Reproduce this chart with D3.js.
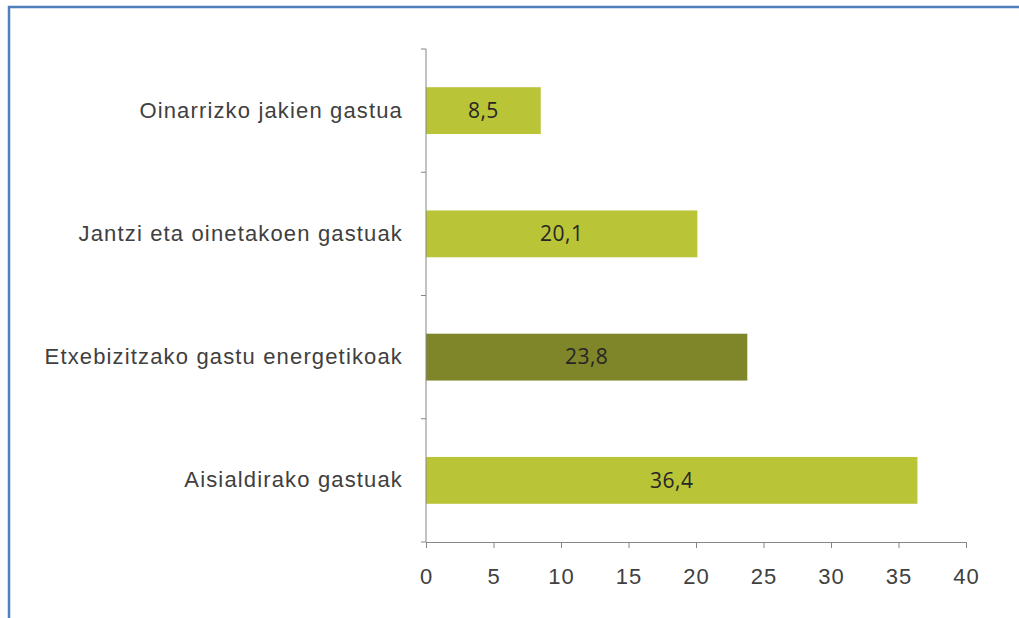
<!DOCTYPE html>
<meta charset="utf-8">
<style>
body { margin: 0; background: #fff; }
svg { display: block; font-family: "Open Sans", sans-serif; }
.axis path, .axis line { stroke: #868686; }
.axis text { fill: #404040; }
</style>
<body>
<script src="https://cdn.jsdelivr.net/npm/d3@7"></script>
<script>

var categories = ["Oinarrizko jakien gastua", "Jantzi eta oinetakoen gastuak", "Etxebizitzako gastu energetikoak", "Aisialdirako gastuak"];
var values = [8.5, 20.1, 23.8, 36.4];
var labels = ["8,5", "20,1", "23,8", "36,4"];
var highlight = [false, false, true, false];
var xTicks = [0, 5, 10, 15, 20, 25, 30, 35, 40];

var W = 1019, H = 618;
var margin = {top: 49, left: 426, right: 53, bottom: 76};
var width = W - margin.left - margin.right,
    height = H - margin.top - margin.bottom;

var svg = d3.select("body").append("svg")
    .attr("width", W)
    .attr("height", H);

// blue frame (cut at right and bottom)
svg.append("path")
    .attr("d", "M9,618 V7 H1019")
    .attr("fill", "none")
    .attr("stroke", "#4f81bd")
    .attr("stroke-width", 2.5);

var g = svg.append("g")
    .attr("transform", "translate(" + margin.left + "," + margin.top + ")");

var x = d3.scaleLinear().domain([0, 40]).range([0, width]);
var y = d3.scaleBand().domain(categories).range([0, height])
    .paddingInner(0.62).paddingOuter(0.31);

// bars
g.selectAll(".bar")
    .data(values)
  .enter().append("rect")
    .attr("class", "bar")
    .attr("x", 0)
    .attr("y", function(d, i) { return y(categories[i]); })
    .attr("width", function(d) { return x(d); })
    .attr("height", y.bandwidth())
    .attr("fill", function(d, i) { return highlight[i] ? "#7f8529" : "#b9c437"; });

g.selectAll(".val")
    .data(values)
  .enter().append("text")
    .attr("class", "val")
    .attr("x", function(d) { return x(d) / 2; })
    .attr("y", function(d, i) { return y(categories[i]) + y.bandwidth() / 2; })
    .attr("dy", "0.35em")
    .attr("text-anchor", "middle")
    .style("font-size", "21px")
    .style("letter-spacing", "0.5px")
    .style("fill", "#262626")
    .text(function(d, i) { return labels[i]; });

// x axis
g.append("g")
    .attr("class", "axis")
    .attr("transform", "translate(0," + height + ")")
    .call(d3.axisBottom(x).tickValues(xTicks).tickSize(6).tickPadding(20).tickSizeOuter(0))
    .selectAll("text")
    .style("font-size", "22px")
    .style("letter-spacing", "1px");

// y axis: labels only, ticks at band edges
var yAxis = g.append("g")
    .attr("class", "axis")
    .call(d3.axisLeft(y).tickSize(0).tickPadding(23));
yAxis.select(".domain").remove();
yAxis.selectAll("text")
    .style("font-size", "22px")
    .style("letter-spacing", "1.15px");

g.append("line")
    .attr("x1", 0).attr("x2", 0)
    .attr("y1", 0).attr("y2", height)
    .attr("stroke", "#868686");

var edges = categories.map(function(c) { return y(c) - y.step() * y.paddingInner() / 2; });
edges.push(height);
g.selectAll(".ytick")
    .data(edges)
  .enter().append("line")
    .attr("x1", -5).attr("x2", 0)
    .attr("y1", function(d) { return d; })
    .attr("y2", function(d) { return d; })
    .attr("stroke", "#868686");

</script>
</body>
